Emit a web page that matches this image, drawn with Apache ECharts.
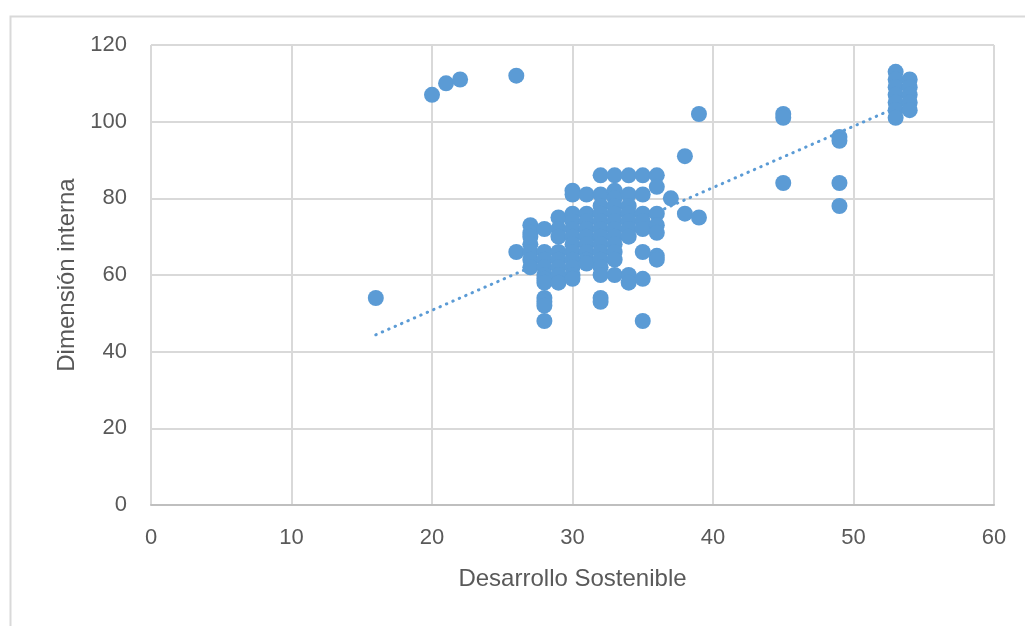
<!DOCTYPE html>
<html>
<head>
<meta charset="utf-8">
<script src="https://cdn.jsdelivr.net/npm/echarts@6/dist/echarts.min.js"></script>
<style>
html,body{margin:0;padding:0;background:#fff;}
#c{width:1025px;height:626px;}
</style>
</head>
<body>
<div id="c"></div>
<script>
// Data
const xValues = [
  16, 20, 21, 22, 26, 26,
  27, 27, 27, 27, 27, 27, 27,
  28, 28, 28, 28, 28, 28, 28, 28, 28, 28, 28,
  29, 29, 29, 29, 29, 29, 29, 29,
  30, 30, 30, 30, 30, 30, 30, 30, 30, 30, 30, 30,
  31, 31, 31, 31, 31, 31, 31, 31, 31,
  32, 32, 32, 32, 32, 32, 32, 32, 32, 32, 32, 32, 32, 32,
  33, 33, 33, 33, 33, 33, 33, 33, 33, 33, 33, 33,
  34, 34, 34, 34, 34, 34, 34, 34, 34,
  35, 35, 35, 35, 35, 35, 35, 35,
  36, 36, 36, 36, 36, 36, 36,
  37, 38, 38, 39, 39,
  45, 45, 45,
  49, 49, 49, 49,
  53, 53, 53, 53, 53, 53, 53,
  54, 54, 54, 54, 54
];
const yValues = [
  54, 107, 110, 111, 112, 66,
  73, 71, 70, 68, 66, 64, 62,
  72, 66, 64, 62, 60, 59, 58, 54, 53, 52, 48,
  75, 72, 70, 66, 64, 62, 60, 58,
  82, 81, 76, 74, 72, 70, 68, 66, 64, 62, 60, 59,
  81, 76, 74, 72, 70, 68, 66, 64, 63,
  86, 81, 78, 76, 74, 72, 70, 68, 66, 64, 62, 60, 54, 53,
  86, 82, 80, 78, 76, 74, 72, 70, 68, 66, 64, 60,
  86, 81, 78, 76, 74, 72, 70, 60, 58,
  86, 81, 76, 74, 72, 66, 59, 48,
  86, 83, 76, 73, 71, 65, 64,
  80, 91, 76, 102, 75,
  102, 101, 84,
  96, 95, 84, 78,
  113, 111, 109, 107, 105, 103, 101,
  111, 109, 107, 105, 103
];
// Linear trendline endpoints
const trendX = [16, 54];
const trendY = [44.4, 105.2];

const xTicks = [0, 10, 20, 30, 40, 50, 60];
const yTicks = [0, 20, 40, 60, 80, 100, 120];
const xTitle = 'Desarrollo Sostenible';
const yTitle = 'Dimensión interna';

const points = xValues.map((x, i) => [x, yValues[i]]);
const trend = trendX.map((x, i) => [x, trendY[i]]);

const FONT = '"Liberation Sans", sans-serif';
const TXT = '#595959';
const GRID = '#d9d9d9';
const BLUE = '#5b9bd5';

const chart = echarts.init(document.getElementById('c'), null, {renderer: 'canvas'});
chart.setOption({
  animation: false,
  backgroundColor: '#ffffff',
  graphic: [{
    type: 'rect',
    left: 8, top: 14,
    shape: {width: 1100, height: 700},
    style: {fill: 'none', stroke: '#d9d9d9', lineWidth: 2},
    silent: true
  }],
  grid: {left: 151, right: 31, top: 45, bottom: 121, containLabel: false},
  xAxis: {
    type: 'value',
    min: xTicks[0], max: xTicks[xTicks.length - 1], interval: 10,
    name: xTitle, nameLocation: 'middle', nameGap: 62,
    nameTextStyle: {color: TXT, fontFamily: FONT, fontSize: 24},
    axisLine: {show: true, lineStyle: {color: '#bfbfbf', width: 2}},
    axisTick: {show: false},
    axisLabel: {color: TXT, fontFamily: FONT, fontSize: 22, margin: 22},
    splitLine: {show: true, lineStyle: {color: GRID, width: 2}}
  },
  yAxis: {
    type: 'value',
    min: yTicks[0], max: yTicks[yTicks.length - 1], interval: 20,
    name: yTitle, nameLocation: 'middle', nameGap: 72,
    nameTextStyle: {color: TXT, fontFamily: FONT, fontSize: 24},
    axisLine: {show: false},
    axisTick: {show: false},
    axisLabel: {color: TXT, fontFamily: FONT, fontSize: 22, margin: 24},
    splitLine: {show: true, lineStyle: {color: GRID, width: 2}}
  },
  series: [{
    type: 'line',
    data: trend,
    showSymbol: false,
    symbol: 'none',
    lineStyle: {color: BLUE, width: 3, type: [0.5, 6.5], cap: 'round'},
    z: 2
  }, {
    type: 'scatter',
    data: points,
    symbol: 'circle',
    symbolSize: 16,
    itemStyle: {color: BLUE, opacity: 1},
    z: 3
  }]
});
</script>
</body>
</html>
